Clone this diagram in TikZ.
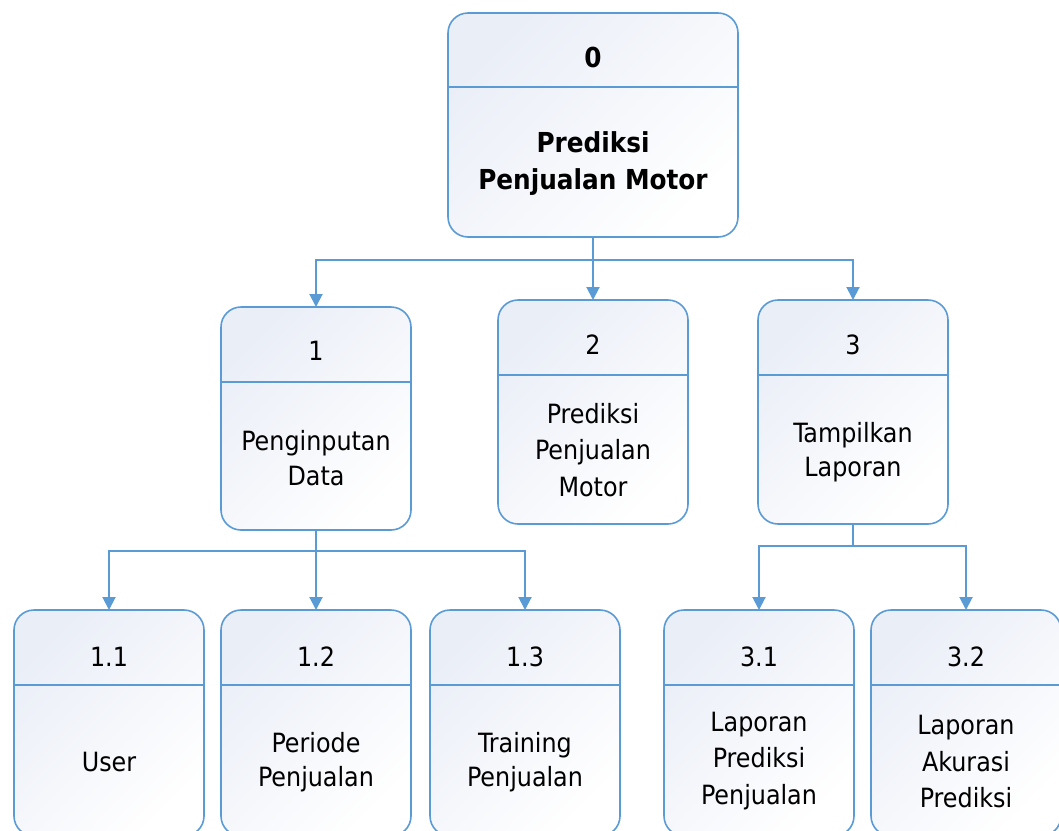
\documentclass[tikz,border=0pt]{standalone}
\usepackage{fontspec}
\setmainfont{DejaVu Sans Condensed}
\usetikzlibrary{arrows.meta}
\definecolor{edgeblue}{HTML}{5B9BD5}
\definecolor{tint}{HTML}{EAEEF7}
\tikzset{
  procbox/.style={draw=edgeblue, line width=1.6pt, rounded corners=20pt,
    top color=tint, bottom color=white, shading angle=45,
    minimum width=190pt, anchor=north west, inner sep=0pt, outer sep=0pt},
  divider/.style={draw=edgeblue, line width=1.6pt},
  label/.style={font=\fontsize{26.5}{35}\selectfont, align=center, inner sep=0pt, text=black},
  tall/.style={font=\fontsize{26.5}{36.5}\selectfont},
  boldlabel/.style={label, font=\fontsize{27.5}{37}\selectfont\bfseries},
  link/.style={draw=edgeblue, line width=2pt},
  flow/.style={link, -{Triangle[width=13pt,length=13pt]}}
}
\begin{document}
\begin{tikzpicture}[x=1pt,y=-1pt]
\useasboundingbox (0,0) rectangle (1059,830);

% level 0
\node[procbox, minimum width=290pt, minimum height=224pt] (p0) at (448,13) {};
\draw[divider] (p0.west |- 0,87) -- (p0.east |- 0,87);
\node[boldlabel] (n0) at (593,57) {0};
\node[boldlabel] (t0) at (593,164) {Prediksi\\Penjualan Motor};

% level 1
\node[procbox, minimum height=223pt] (p1) at (221,307) {};
\draw[divider] (p1.west |- 0,382) -- (p1.east |- 0,382);
\node[label] (n1) at (316,351) {1};
\node[label] (t1) at (316,458) {Penginputan\\Data};

\node[procbox, minimum height=224pt] (p2) at (498,300) {};
\draw[divider] (p2.west |- 0,375) -- (p2.east |- 0,375);
\node[label] (n2) at (593,345) {2};
\node[label, tall] (t2) at (593,450) {Prediksi\\Penjualan\\Motor};

\node[procbox, minimum height=224pt] (p3) at (758,300) {};
\draw[divider] (p3.west |- 0,375) -- (p3.east |- 0,375);
\node[label] (n3) at (853,345) {3};
\node[label, font=\fontsize{26.5}{34}\selectfont] (t3) at (853,452) {Tampilkan\\Laporan};

% level 2
\node[procbox, minimum height=226pt] (p11) at (14,610) {};
\draw[divider] (p11.west |- 0,685) -- (p11.east |- 0,685);
\node[label] (n11) at (109,657) {1.1};
\node[label] (t11) at (109,762) {User};

\node[procbox, minimum height=226pt] (p12) at (221,610) {};
\draw[divider] (p12.west |- 0,685) -- (p12.east |- 0,685);
\node[label] (n12) at (316,657) {1.2};
\node[label, font=\fontsize{26.5}{34}\selectfont] (t12) at (316,762) {Periode\\Penjualan};

\node[procbox, minimum height=226pt] (p13) at (430,610) {};
\draw[divider] (p13.west |- 0,685) -- (p13.east |- 0,685);
\node[label] (n13) at (525,657) {1.3};
\node[label, font=\fontsize{26.5}{34}\selectfont] (t13) at (525,762) {Training\\Penjualan};

\node[procbox, minimum height=226pt] (p31) at (664,610) {};
\draw[divider] (p31.west |- 0,685) -- (p31.east |- 0,685);
\node[label] (n31) at (759,657) {3.1};
\node[label, tall] (t31) at (759,761) {Laporan\\Prediksi\\Penjualan};

\node[procbox, minimum height=226pt] (p32) at (871,610) {};
\draw[divider] (p32.west |- 0,685) -- (p32.east |- 0,685);
\node[label] (n32) at (966,657) {3.2};
\node[label, tall] (t32) at (966,762) {Laporan\\Akurasi\\Prediksi};

% junctions below each parent box
\path (p0.south) ++(0,23) coordinate (j0);
\path (p1.south) ++(0,21) coordinate (j1);
\path (p3.south) ++(0,22) coordinate (j3);

% connectors from 0
\draw[flow] (p0.south) -- (j0) -- (p2.north);
\draw[flow] (j0) -| (p1.north);
\draw[flow] (j0) -| (p3.north);

% connectors from 1
\draw[flow] (p1.south) -- (j1) -- (p12.north);
\draw[flow] (j1) -| (p11.north);
\draw[flow] (j1) -| (p13.north);

% connectors from 3
\draw[link] (p3.south) -- (j3);
\draw[flow] (j3) -| (p31.north);
\draw[flow] (j3) -| (p32.north);
\end{tikzpicture}
\end{document}
